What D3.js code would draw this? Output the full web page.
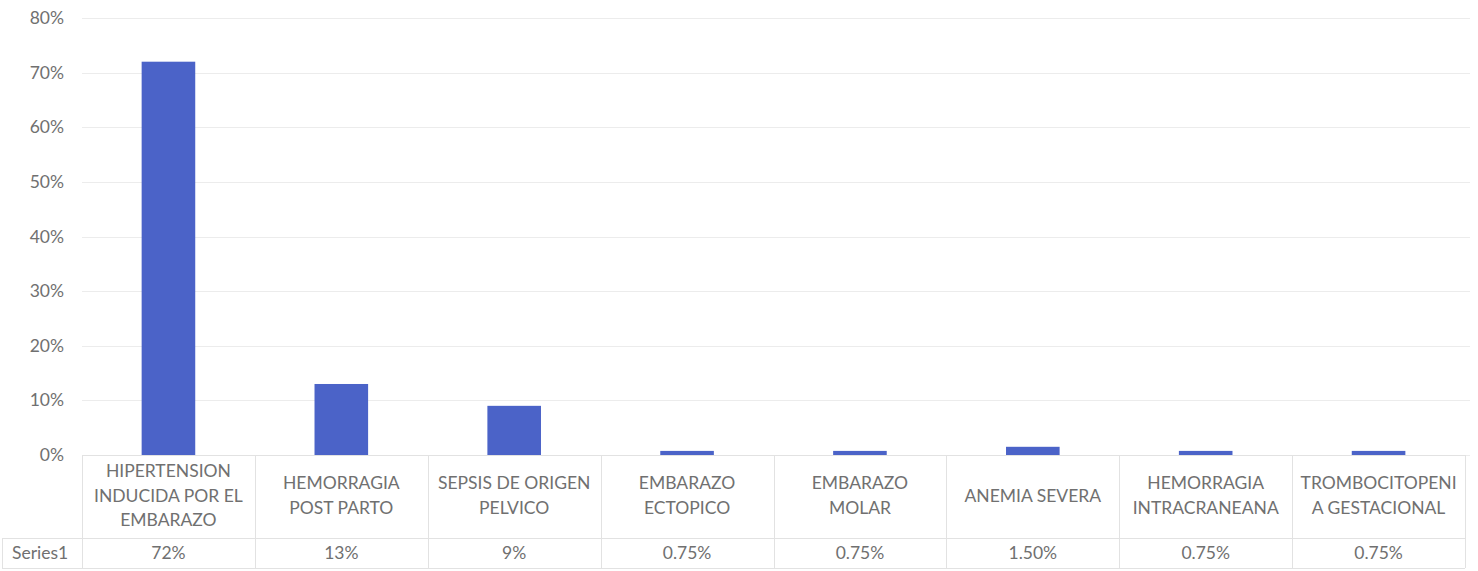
<!DOCTYPE html>
<html>
<head>
<meta charset="utf-8">
<script src="https://cdn.jsdelivr.net/npm/d3@7"></script>
<style>
  html, body { margin: 0; padding: 0; background: #fff; }
  svg text { font-family: Lato, "Open Sans", sans-serif; fill: #707070; }
</style>
</head>
<body>
<svg id="chart" width="1478" height="571"></svg>
<script>
// Causes of maternal morbidity, share of cases
const categories = [
  ["HIPERTENSION", "INDUCIDA POR EL", "EMBARAZO"],
  ["HEMORRAGIA", "POST PARTO"],
  ["SEPSIS DE ORIGEN", "PELVICO"],
  ["EMBARAZO", "ECTOPICO"],
  ["EMBARAZO", "MOLAR"],
  ["ANEMIA SEVERA"],
  ["HEMORRAGIA", "INTRACRANEANA"],
  ["TROMBOCITOPENI", "A GESTACIONAL"]
];
const seriesName = "Series1";
const values = [72, 13, 9, 0.75, 0.75, 1.5, 0.75, 0.75];
const valueLabels = ["72%", "13%", "9%", "0.75%", "0.75%", "1.50%", "0.75%", "0.75%"];
const yTicks = [0, 10, 20, 30, 40, 50, 60, 70, 80];

const svg = d3.select("#chart");
const plotLeft = 82, plotRight = 1465, plotTop = 18, plotBottom = 455;
const rowSplit = 538, tableBottom = 568, tableLeft = 2;
const fontSize = "17.5px";

const x = d3.scaleBand()
  .domain(d3.range(categories.length))
  .range([plotLeft, plotRight])
  .paddingInner(0)
  .paddingOuter(0);

const y = d3.scaleLinear().domain([0, 80]).range([plotBottom, plotTop]);

// gridlines
svg.append("g")
  .selectAll("line")
  .data(yTicks)
  .join("line")
  .attr("x1", plotLeft)
  .attr("x2", 1470)
  .attr("y1", d => Math.round(y(d)) + 0.5)
  .attr("y2", d => Math.round(y(d)) + 0.5)
  .attr("stroke", "#ececec")
  .attr("stroke-width", 1);

// y axis labels
const yAxis = d3.axisLeft(y)
  .tickValues(yTicks)
  .tickFormat(d => d + "%")
  .tickSize(0)
  .tickPadding(0);
const ga = svg.append("g").attr("transform", "translate(64,0)").call(yAxis);
ga.select(".domain").remove();
ga.selectAll("text")
  .style("font-size", fontSize)
  .style("font-family", "Lato, 'Open Sans', sans-serif")
  .attr("fill", "#777777");

// bars
const barW = x.bandwidth() * 0.31;
svg.append("g")
  .selectAll("rect")
  .data(values)
  .join("rect")
  .attr("x", (d, i) => x(i) + (x.bandwidth() - barW) / 2)
  .attr("width", barW)
  .attr("y", d => y(d))
  .attr("height", d => y(0) - y(d))
  .attr("fill", "#4b63c8");

// data table grid
const grid = svg.append("g").attr("stroke", "#e2e2e2").attr("stroke-width", 1).attr("fill", "none");
grid.append("line").attr("x1", plotLeft).attr("x2", plotRight).attr("y1", plotBottom + 0.5).attr("y2", plotBottom + 0.5);
grid.append("line").attr("x1", tableLeft).attr("x2", plotRight).attr("y1", rowSplit + 0.5).attr("y2", rowSplit + 0.5);
grid.append("line").attr("x1", tableLeft).attr("x2", plotRight).attr("y1", tableBottom + 0.5).attr("y2", tableBottom + 0.5);
grid.append("line").attr("x1", tableLeft + 0.5).attr("x2", tableLeft + 0.5).attr("y1", rowSplit).attr("y2", tableBottom);
grid.selectAll("line.col")
  .data(d3.range(categories.length + 1))
  .join("line")
  .attr("class", "col")
  .attr("x1", i => Math.round(i < categories.length ? x(i) : plotRight) + 0.5)
  .attr("x2", i => Math.round(i < categories.length ? x(i) : plotRight) + 0.5)
  .attr("y1", plotBottom)
  .attr("y2", tableBottom);

// category labels
const lineH = 24.5;
const headMid = (plotBottom + rowSplit) / 2;
svg.append("g")
  .selectAll("text")
  .data(categories)
  .join("text")
  .attr("text-anchor", "middle")
  .style("font-size", fontSize)
  .each(function (lines, i) {
    const t = d3.select(this);
    const cx = x(i) + x.bandwidth() / 2;
    const y0 = headMid - (lines.length - 1) * lineH / 2 - 1;
    lines.forEach((ln, k) => {
      t.append("tspan")
        .attr("x", cx)
        .attr("y", y0 + k * lineH)
        .attr("dy", "0.35em")
        .text(ln);
    });
  });

// series row
const rowMid = (rowSplit + tableBottom) / 2;
svg.append("text")
  .attr("x", 12)
  .attr("y", rowMid)
  .attr("dy", "0.35em")
  .style("font-size", fontSize)
  .text(seriesName);
svg.append("g")
  .selectAll("text")
  .data(valueLabels)
  .join("text")
  .attr("x", (d, i) => x(i) + x.bandwidth() / 2)
  .attr("y", rowMid)
  .attr("dy", "0.35em")
  .attr("text-anchor", "middle")
  .style("font-size", fontSize)
  .text(d => d);
</script>
</body>
</html>
